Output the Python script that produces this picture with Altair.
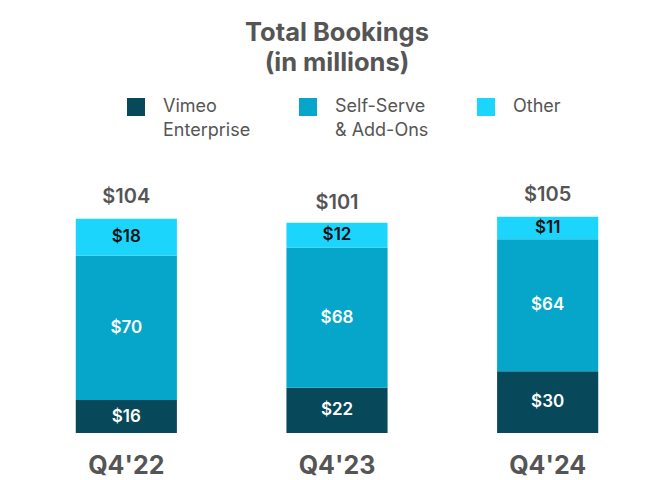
import altair as alt
import pandas as pd

quarters = ["Q4'22", "Q4'23", "Q4'24"]
segments = ["Vimeo Enterprise", "Self-Serve & Add-Ons", "Other"]
enterprise = [16, 22, 30]
self_serve = [70, 68, 64]
other = [18, 12, 11]
totals = [104, 101, 105]
colors = ["#07485a", "#05a6ca", "#1cd5fc"]

rows = []
for i, q in enumerate(quarters):
    for k, (seg, vals) in enumerate(zip(segments, [enterprise, self_serve, other])):
        rows.append({"quarter": q, "segment": seg, "value": vals[i], "ord": k})
df = pd.DataFrame(rows)
df_tot = pd.DataFrame({"quarter": quarters, "total": totals})

x_enc = alt.X(
    "quarter:N",
    sort=quarters,
    scale=alt.Scale(paddingInner=0.52, paddingOuter=0.26),
    axis=alt.Axis(
        title=None, labelAngle=0, domain=False, ticks=False,
        labelFontSize=25, labelFontWeight="bold", labelColor="#555555",
        labelPadding=29,
    ),
)
y_scale = alt.Scale(domain=[0, 166], nice=False)

base = alt.Chart(df).transform_stack(
    stack="value", groupby=["quarter"],
    sort=[alt.SortField("ord", order="ascending")], as_=["v0", "v1"]
).transform_calculate(
    mid="(datum.v0 + datum.v1) / 2", lab="'$' + datum.value"
)

label_expr = ("datum.label == 'Vimeo Enterprise' ? ['Vimeo', 'Enterprise'] : "
              "datum.label == 'Self-Serve & Add-Ons' ? ['Self-Serve', '& Add-Ons'] : ['Other', ' ']")

bars = base.mark_bar().encode(
    x=x_enc,
    y=alt.Y("v0:Q", scale=y_scale, axis=None),
    y2="v1:Q",
    color=alt.Color(
        "segment:N",
        scale=alt.Scale(domain=segments, range=colors),
        legend=alt.Legend(
            title=None, orient="none", legendX=106, legendY=7,
            direction="horizontal", symbolType="square", symbolSize=324,
            symbolStrokeWidth=0, symbolOpacity=1, labelFontSize=18,
            labelColor="#555555", labelOffset=18, columnPadding=48,
            labelLimit=300, labelBaseline="top", labelExpr=label_expr,
        ),
    ),
)

labels = base.mark_text(fontSize=17, fontWeight=600).encode(
    x=alt.X("quarter:N", sort=quarters),
    y=alt.Y("mid:Q", scale=y_scale),
    text="lab:N",
    color=alt.condition(alt.datum.segment == "Other", alt.value("#111111"), alt.value("#ffffff")),
)

tot = alt.Chart(df_tot).transform_calculate(lab="'$' + datum.total").mark_text(
    fontSize=20, fontWeight=600, color="#555555", baseline="alphabetic", dy=-16
).encode(
    x=alt.X("quarter:N", sort=quarters),
    y=alt.Y("total:Q", scale=y_scale),
    text="lab:N",
)

chart = alt.layer(bars, labels, tot).properties(
    width=632, height=342,
    padding={"left": 13, "top": 12, "right": 5, "bottom": 5},
    title=alt.Title(
        ["Total Bookings", "(in millions)"], fontSize=25.5, fontWeight="bold",
        color="#555555", lineHeight=30, anchor="middle", offset=15,
    ),
).configure(
    font="Inter",
    style={"guide-label": {"lineHeight": 24, "dy": -9}},
).configure_view(strokeWidth=0)

chart.save("out.html", embed_options={"renderer": "svg", "actions": False})
